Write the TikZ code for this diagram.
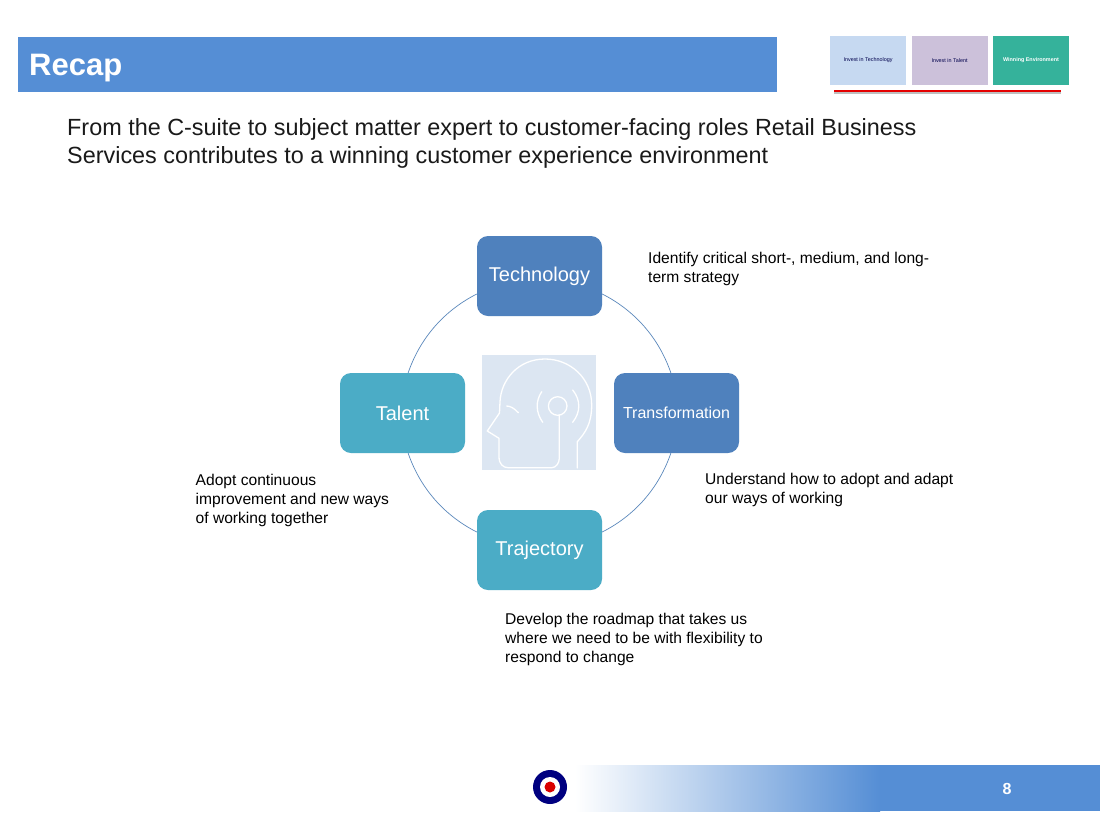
\documentclass[tikz,border=0pt]{standalone}
\usepackage{fontspec}
\setmainfont{Liberation Sans}
\usetikzlibrary{shadows,calc}
\definecolor{hdr}{HTML}{558ED5}
\definecolor{boxblue}{HTML}{4F81BD}
\definecolor{boxteal}{HTML}{4BACC6}
\definecolor{arcblue}{HTML}{5B88BC}
\definecolor{thA}{HTML}{C6D9F1}
\definecolor{thB}{HTML}{CCC1DA}
\definecolor{thC}{HTML}{35B29B}
\definecolor{txt}{HTML}{1A1A1A}
\definecolor{headbg}{HTML}{DCE6F2}
\tikzset{
 x=1pt,y=-1pt,
 cyclebox/.style={rounded corners=11pt,minimum width=125pt,minimum height=80pt,inner sep=0pt,text=white,font=\fontsize{20}{24}\selectfont},
 note/.style={anchor=north west,inner sep=0pt,align=left,text=black,font=\fontsize{15.6}{19}\selectfont},
 thumb/.style={minimum width=76pt,minimum height=49pt,inner sep=0pt,font=\fontsize{5.4}{6}\selectfont},
 ringarc/.style={draw=arcblue,line width=0.7pt},
 headline/.style={draw=white,line width=1.3pt,line cap=round,line join=round}
}
\begin{document}
\begin{tikzpicture}
\useasboundingbox (0,0) rectangle (1100,825);
\fill[white] (0,0) rectangle (1100,825);
% header
\node[fill=hdr,minimum width=759pt,minimum height=55pt,inner sep=0pt,anchor=north west] (hdrbar) at (18,36.5) {};
\node[anchor=base west,inner sep=0pt,text=white,font=\bfseries\fontsize{31}{36}\selectfont] (title) at (29,75) {Recap};
% thumbnails
\node[thumb,fill=thA,text=black!70!blue] (th1) at (868,60.5) {Invest in Technology};
\node[thumb,fill=thB,text=black!70!blue] (th2) at (949.5,60.5) {Invest in Talent};
\node[thumb,fill=thC,text=white,font=\bfseries\fontsize{5.4}{6}\selectfont] (th3) at (1031,60.5) {Winning Environment};
\fill[black!25] (834,91.5) rectangle (1061,94);
\fill[red!90!black] (834,89.5) rectangle (1061,92);
% lead text
\node[anchor=north west,inner sep=0pt,align=left,text=txt,font=\fontsize{23.4}{28.2}\selectfont] (lead) at (67,118) {From the C-suite to subject matter expert to customer-facing roles Retail Business\\Services contributes to a winning customer experience environment};
% cycle
\node[cyclebox,fill=boxblue] (tech) at (539.5,276) {Technology};
\node[cyclebox,fill=boxblue,font=\fontsize{16}{20}\selectfont] (trans) at (676.5,413) {Transformation};
\node[cyclebox,fill=boxteal] (traj) at (539.5,550) {Trajectory};
\node[cyclebox,fill=boxteal] (talent) at (402.5,413) {Talent};
\draw[ringarc] (tech.-16) to[bend left=22,looseness=0.9] (trans.98);
\draw[ringarc] (trans.-98) to[bend left=22,looseness=0.9] (traj.16);
\draw[ringarc] (traj.164) to[bend left=22,looseness=0.9] (talent.-82);
\draw[ringarc] (talent.82) to[bend left=22,looseness=0.9] (tech.196);
% head picture
\node[fill=headbg,minimum width=114pt,minimum height=115pt,inner sep=0pt,anchor=north west] (headpic) at (482,355) {};
\draw[headline] (577.3,468) -- (577.3,441.7) .. controls (585,433) and (591.7,424) .. (591.7,405)
  .. controls (591.7,378) and (570,359) .. (545,359)
  .. controls (518,359) and (501,380) .. (500,401.7) -- (499.5,413) -- (487.3,431) -- (499,438.3) -- (499,456.7)
  .. controls (499,464) and (503,467.7) .. (508.3,467.7) -- (551.7,467.7)
  .. controls (556,467.7) and (559.3,463) .. (559.3,458.3) -- (559.3,415);
\draw[headline] (557.7,406) circle[radius=9.3];
\draw[headline] (541.7,391.7) .. controls (535.5,401) and (535.5,412) .. (542.7,422.3);
\draw[headline] (572.7,390) .. controls (580.8,400) and (580.8,412) .. (572.7,422.3);
\draw[headline] (506.7,406) .. controls (510.5,406) and (514.5,408.5) .. (518.3,412.7);
% notes
\node[note] (n1) at (648,252) {Identify critical short-, medium, and long-\\term strategy};
\node[note] (n2) at (705,473) {Understand how to adopt and adapt\\our ways of working};
\node[note] (n3) at (505,612.5) {Develop the roadmap that takes us\\where we need to be with flexibility to\\respond to change};
\node[note] (n4) at (195.5,474) {Adopt continuous\\improvement and new ways\\of working together};
% footer
\shade[left color=white,right color=hdr,shading=axis] (575,765) rectangle (880,811);
\fill[hdr] (879.5,765) rectangle (1100,811);
\node[anchor=center,inner sep=0pt,text=white,font=\bfseries\fontsize{16}{20}\selectfont] (pg) at (1007,789) {8};
% logo
\fill[black!25!blue!55!white!0!blue!50!black] (550,787) circle[radius=17];
\fill[white] (550,787) circle[radius=10];
\fill[red!85!black] (550,787) circle[radius=5.5];
\end{tikzpicture}
\end{document}
